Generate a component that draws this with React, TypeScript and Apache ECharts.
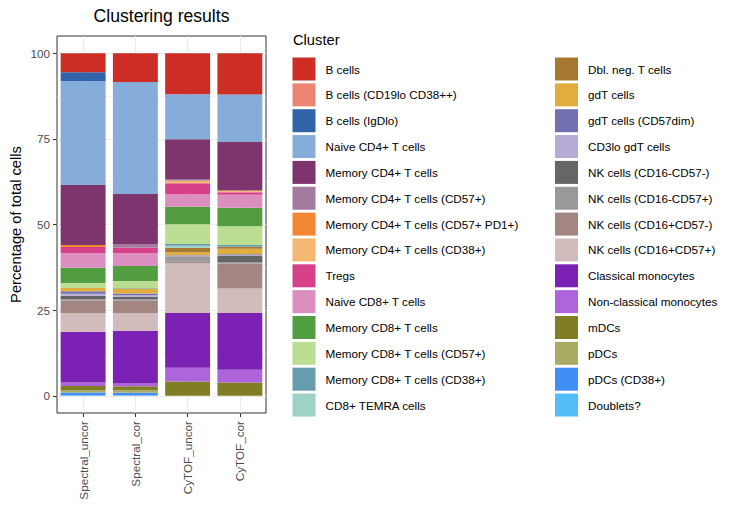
import React, { useEffect, useRef } from "react";
import * as echarts from "echarts";

const samples = ["Spectral_uncor", "Spectral_cor", "CyTOF_uncor", "CyTOF_cor"];

const clusters = [
  "B cells",
  "B cells (CD19lo CD38++)",
  "B cells (IgDlo)",
  "Naive CD4+ T cells",
  "Memory CD4+ T cells",
  "Memory CD4+ T cells (CD57+)",
  "Memory CD4+ T cells (CD57+ PD1+)",
  "Memory CD4+ T cells (CD38+)",
  "Tregs",
  "Naive CD8+ T cells",
  "Memory CD8+ T cells",
  "Memory CD8+ T cells (CD57+)",
  "Memory CD8+ T cells (CD38+)",
  "CD8+ TEMRA cells",
  "Dbl. neg. T cells",
  "gdT cells",
  "gdT cells (CD57dim)",
  "CD3lo gdT cells",
  "NK cells (CD16-CD57-)",
  "NK cells (CD16-CD57+)",
  "NK cells (CD16+CD57-)",
  "NK cells (CD16+CD57+)",
  "Classical monocytes",
  "Non-classical monocytes",
  "mDCs",
  "pDCs",
  "pDCs (CD38+)",
  "Doublets?",
];

const clusterColors = [
  "#CC2D25", "#EE8574", "#3063A8", "#86ADDA", "#7E346C", "#A47BA0", "#F28834",
  "#F4B873", "#D7418A", "#DD8EC1", "#529D3F", "#BBDE93", "#669DAE", "#9ED1C8",
  "#A67832", "#E1AE3D", "#7171B1", "#B6ABD5", "#666666", "#999999", "#A38582",
  "#D1BBBB", "#7B22B5", "#AE64DA", "#807E24", "#AAAC66", "#3F8FF5", "#53BDF9",
];

// Percentages per sample, in cluster order
const spectralUncor = [
  5.6, 0, 2.6, 30.3, 17.5, 0, 0.6, 0, 1.7, 4.3, 4.5, 1.4, 0, 0,
  0, 1.0, 0.7, 0.6, 1.0, 0.4, 3.6, 5.5, 14.8, 1.0, 1.2, 0.7, 0.9, 0.1,
];
const spectralCor = [
  8.4, 0, 0.1, 32.6, 14.7, 1.0, 0, 0, 1.6, 3.7, 4.4, 2.0, 0.2, 0,
  0, 1.4, 0.5, 0.5, 0.7, 0.4, 3.6, 5.3, 15.3, 0.8, 1.15, 0.75, 0.8, 0.1,
];
const cytofUncor = [
  12.0, 0, 0, 13.1, 11.6, 0.5, 0, 0.8, 3.2, 3.6, 5.1, 5.8, 0.5, 0.6,
  1.3, 0.9, 0.1, 0.2, 0, 1.6, 0.4, 14.5, 16.0, 4.0, 4.2, 0, 0, 0,
];
const cytofCor = [
  12.1, 0, 0, 13.8, 14.2, 0, 0, 0.5, 0.7, 3.8, 5.4, 5.5, 0.5, 0,
  0.6, 1.6, 0.2, 0.3, 1.8, 0.4, 7.3, 7.1, 16.6, 3.7, 3.9, 0, 0, 0,
];

const yTickValues = [0, 25, 50, 75, 100];
const yMinorValues = [12.5, 37.5, 62.5, 87.5];

const FONT = "'Liberation Sans', Arial, Helvetica, sans-serif";

export default function App() {
  const ref = useRef<HTMLDivElement>(null);

  useEffect(() => {
    if (!ref.current) return;
    const chart = echarts.init(ref.current, undefined, { renderer: "svg" });

    const sampleValues = [spectralUncor, spectralCor, cytofUncor, cytofCor];

    // guide axes: y positions in steps of 2.5 over the padded range -5..105
    const yGuide: string[] = [];
    for (let v = -5; v <= 105.001; v += 2.5) yGuide.push(String(Math.round(v * 10) / 10));
    const isMajor = (i: number) => yTickValues.includes(Number(yGuide[i]));
    const isMinor = (i: number) => yMinorValues.includes(Number(yGuide[i]));

    // x guide: category centres at odd indices
    const xGuide: string[] = [""];
    samples.forEach((s) => {
      xGuide.push(s);
      xGuide.push("");
    });
    const isCenter = (i: number) => i % 2 === 1;

    const series = clusters
      .map((name, ci) => ({
        name,
        type: "bar" as const,
        stack: "total",
        xAxisIndex: 0,
        yAxisIndex: 0,
        barWidth: "86%",
        itemStyle: { color: clusterColors[ci] },
        emphasis: { disabled: true },
        data: sampleValues.map((arr) => arr[ci]),
      }))
      .reverse();

    const legendCommon = {
      orient: "vertical" as const,
      top: 57.5,
      itemWidth: 23,
      itemHeight: 23,
      itemGap: 2.85,
      icon: "rect",
      padding: 0,
      selectedMode: false,
      textStyle: {
        fontSize: 11.7,
        color: "#000000",
        fontFamily: FONT,
        padding: [0, 0, 0, 5],
      },
    };

    chart.setOption({
      animation: false,
      backgroundColor: "#ffffff",
      textStyle: { fontFamily: FONT },
      grid: {
        left: 57,
        top: 36,
        width: 209,
        height: 377,
        show: true,
        borderColor: "#333333",
        borderWidth: 1,
        backgroundColor: "#ffffff",
      },
      xAxis: [
        {
          type: "category",
          data: samples,
          gridIndex: 0,
          position: "bottom",
          axisLine: { show: false },
          axisTick: { show: false },
          splitLine: { show: false },
          axisLabel: {
            rotate: 90,
            margin: 8,
            color: "#4D4D4D",
            fontSize: 11.7,
            fontFamily: FONT,
          },
        },
        {
          type: "category",
          data: xGuide,
          gridIndex: 0,
          position: "bottom",
          boundaryGap: false,
          axisLine: { show: false },
          axisLabel: { show: false },
          axisTick: {
            show: true,
            interval: isCenter,
            length: 4,
            lineStyle: { color: "#333333", width: 1 },
          },
          splitLine: {
            show: true,
            interval: isCenter,
            lineStyle: { color: "#EBEBEB", width: 1 },
          },
        },
      ],
      yAxis: [
        {
          type: "value",
          min: -5,
          max: 105,
          gridIndex: 0,
          show: false,
          splitLine: { show: false },
        },
        {
          type: "category",
          data: yGuide,
          gridIndex: 0,
          position: "left",
          boundaryGap: false,
          axisLine: { show: false },
          axisTick: {
            show: true,
            interval: isMajor,
            length: 4,
            lineStyle: { color: "#333333", width: 1 },
          },
          axisLabel: {
            interval: isMajor,
            margin: 7,
            color: "#4D4D4D",
            fontSize: 11.7,
            fontFamily: FONT,
          },
          splitLine: {
            show: true,
            interval: isMajor,
            lineStyle: { color: "#EBEBEB", width: 1 },
          },
          name: "Percentage of total cells",
          nameLocation: "middle",
          nameGap: 34,
          nameTextStyle: { fontSize: 14.7, color: "#000000", fontFamily: FONT },
        },
        {
          type: "category",
          data: yGuide,
          gridIndex: 0,
          position: "left",
          boundaryGap: false,
          axisLine: { show: false },
          axisTick: { show: false },
          axisLabel: { show: false },
          splitLine: {
            show: true,
            interval: isMinor,
            lineStyle: { color: "#EBEBEB", width: 0.6 },
          },
        },
      ],
      legend: [
        { ...legendCommon, left: 292.5, data: clusters.slice(0, 14) },
        { ...legendCommon, left: 555, data: clusters.slice(14) },
      ],
      graphic: [
        {
          type: "text",
          x: 161.5,
          y: 16,
          style: {
            text: "Clustering results",
            fontSize: 17.6,
            fontFamily: FONT,
            fill: "#000000",
            textAlign: "center",
            textVerticalAlign: "middle",
          },
        },
        {
          type: "text",
          x: 293,
          y: 40,
          style: {
            text: "Cluster",
            fontSize: 14.7,
            fontFamily: FONT,
            fill: "#000000",
            textAlign: "left",
            textVerticalAlign: "middle",
          },
        },
      ],
      series,
    });

    return () => chart.dispose();
  }, []);

  return (
    <div
      ref={ref}
      style={{ position: "fixed", left: 0, top: 0, width: 734, height: 510 }}
    />
  );
}
